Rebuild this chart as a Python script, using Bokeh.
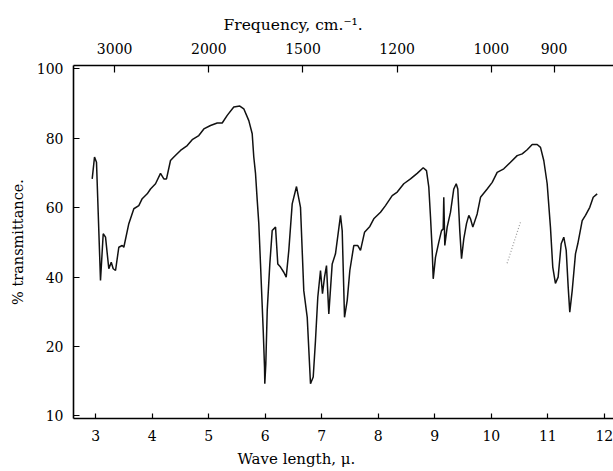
from bokeh.plotting import figure
from bokeh.models import LinearAxis, FixedTicker, CustomJSTickFormatter, Title
from bokeh.embed import file_html
from bokeh.resources import INLINE

# ---- data: wavelength (micron) and % transmittance ----
wavelength = [2.936, 2.977, 3.012, 3.083, 3.131, 3.172, 3.230, 3.273, 3.308, 3.349,
              3.407, 3.467, 3.496, 3.584, 3.673, 3.761, 3.821, 3.910, 3.968, 4.057,
              4.145, 4.204, 4.251, 4.322, 4.381, 4.499, 4.618, 4.706, 4.823, 4.912,
              5.030, 5.149, 5.237, 5.326, 5.442, 5.549, 5.619, 5.708, 5.768, 5.796,
              5.827, 5.857, 5.885, 5.915, 5.963, 5.986, 5.991, 6.009, 6.034, 6.080,
              6.122, 6.181, 6.221, 6.269, 6.327, 6.370, 6.416, 6.476, 6.552, 6.623,
              6.681, 6.742, 6.800, 6.848, 6.888, 6.929, 6.977, 7.012, 7.048, 7.083,
              7.124, 7.184, 7.242, 7.331, 7.361, 7.402, 7.450, 7.496, 7.566, 7.637,
              7.685, 7.756, 7.850, 7.920, 8.039, 8.127, 8.246, 8.335, 8.451, 8.570,
              8.688, 8.795, 8.853, 8.894, 8.924, 8.954, 8.972, 9.012, 9.071, 9.119,
              9.149, 9.159, 9.177, 9.219, 9.278, 9.336, 9.379, 9.407, 9.442, 9.473,
              9.513, 9.561, 9.602, 9.632, 9.673, 9.750, 9.809, 9.927, 10.016, 10.104,
              10.221, 10.340, 10.458, 10.547, 10.635, 10.724, 10.812, 10.871, 10.929, 10.989,
              11.047, 11.088, 11.135, 11.183, 11.237, 11.283, 11.326, 11.361, 11.389, 11.432,
              11.490, 11.531, 11.609, 11.667, 11.743, 11.804, 11.874]
transmittance = [68.3, 74.6, 73.1, 39.0, 52.5, 51.5, 42.4, 44.3, 42.4, 41.9,
                 48.6, 49.1, 48.6, 55.4, 59.7, 60.6, 62.6, 64.0, 65.4, 66.9,
                 69.9, 68.3, 68.3, 73.6, 74.6, 76.5, 77.9, 79.6, 80.8, 82.7,
                 83.7, 84.4, 84.4, 86.6, 89.0, 89.3, 88.5, 85.1, 81.3, 74.6,
                 69.8, 62.1, 55.4, 43.8, 24.6, 14.0, 9.25, 15.0, 30.4, 43.8,
                 53.4, 54.4, 43.8, 42.9, 41.4, 40.0, 47.7, 61.1, 66.1, 60.1,
                 36.1, 28.4, 9.25, 11.2, 21.7, 34.2, 41.9, 35.2, 40.0, 43.3,
                 29.4, 43.8, 46.7, 57.8, 53.4, 28.4, 33.3, 41.9, 49.1, 49.1,
                 47.7, 52.9, 54.6, 56.8, 58.7, 60.6, 63.5, 64.5, 66.9, 68.3,
                 69.9, 71.5, 70.7, 65.9, 57.3, 47.7, 39.5, 45.7, 50.1, 53.4,
                 53.9, 63.0, 49.1, 54.4, 58.7, 65.4, 66.9, 65.4, 53.4, 45.3,
                 51.0, 55.4, 57.8, 56.8, 54.4, 58.2, 63.0, 65.4, 67.3, 70.2,
                 71.2, 73.1, 75.0, 75.5, 76.7, 78.2, 78.2, 77.4, 73.6, 66.9,
                 54.4, 42.9, 38.2, 40.0, 49.6, 51.5, 47.7, 37.1, 29.9, 36.1,
                 46.7, 49.6, 56.3, 57.8, 60.1, 63.0, 64.0]

# faint dotted mark on the chart near 10.4 micron
mark_wavelength = [10.28, 10.40, 10.52]
mark_transmittance = [44.0, 50.0, 56.0]

# ---- tick labels ----
wave_ticks = [3, 4, 5, 6, 7, 8, 9, 10, 11, 12]
freq_ticks = [3000, 2000, 1500, 1200, 1000, 900]
y_ticks = [0, 20, 40, 60, 80, 100]
y_tick_labels = ["10", "20", "40", "60", "80", "100"]

FONT = "DejaVu Serif"

p = figure(width=613, height=471, x_range=(2.605, 12.163), y_range=(-0.75, 100.98),
           output_backend="svg", toolbar_location=None,
           min_border_left=73, min_border_right=0, min_border_top=65, min_border_bottom=53)
p.outline_line_color = None
p.grid.visible = False
p.background_fill_color = "white"
p.border_fill_color = "white"

p.line(wavelength, transmittance, line_color="#111111", line_width=1.5)
p.line(mark_wavelength, mark_transmittance, line_color="#9a9a9a", line_width=1.2, line_dash="1 2")

def style(ax, tick_in, standoff):
    ax.axis_line_color = "black"
    ax.axis_line_width = 1.6
    ax.major_tick_line_color = "black"
    ax.major_tick_line_width = 1.2
    ax.major_tick_in = tick_in
    ax.major_tick_out = 0
    ax.minor_tick_line_color = None
    ax.major_label_text_font = FONT
    ax.major_label_text_font_size = "14px"
    ax.major_label_text_color = "black"
    ax.major_label_standoff = standoff
    ax.axis_label_text_font = FONT
    ax.axis_label_text_font_style = "normal"
    ax.axis_label_text_color = "black"

# bottom axis: wavelength
xb = p.xaxis[0]
xb.ticker = FixedTicker(ticks=wave_ticks)
style(xb, 5, 11)

# left axis: % transmittance
yl = p.yaxis[0]
yl.ticker = FixedTicker(ticks=y_ticks)
yl.major_label_overrides = {t: s for t, s in zip(y_ticks, y_tick_labels)}
yl.axis_label = "% transmittance."
yl.axis_label_text_font_size = "14.5px"
style(yl, 6, 10)
yl.axis_label_standoff = 8

# top axis: frequency (cm^-1) placed at the matching wavelengths
xt = LinearAxis(ticker=FixedTicker(ticks=[1e4 / f for f in freq_ticks]),
                formatter=CustomJSTickFormatter(code="return String(Math.round(10000 / tick));"))
style(xt, 7, 12)
p.add_layout(xt, "above")

# axis titles (placed left of centre, as in the original)
top_title = Title(text="Frequency, cm.⁻¹.", align="left", offset=150, standoff=11,
                  text_font=FONT, text_font_size="15.5px", text_font_style="normal",
                  text_color="black")
p.add_layout(top_title, "above")
bottom_title = Title(text="Wave length, μ.", align="left", offset=164, standoff=8,
                     text_font=FONT, text_font_size="15px", text_font_style="normal",
                     text_color="black")
p.add_layout(bottom_title, "below")

open("out.html", "w").write(file_html(p, INLINE))
